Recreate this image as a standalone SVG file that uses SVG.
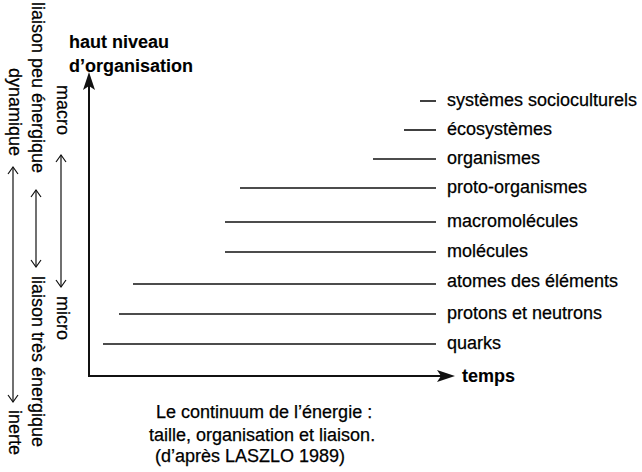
<svg xmlns="http://www.w3.org/2000/svg" width="642" height="472" viewBox="0 0 642 472">
  <style>
    text { font-family: "Liberation Sans", Arial, Helvetica, sans-serif; font-size: 18px; fill: #000; stroke: #000; stroke-width: 0.25; }
    .bold { font-weight: bold; stroke-width: 0.1; }
    .level { stroke: #111; stroke-width: 1.6; fill: none; }
    .axis { stroke: #111; stroke-width: 2; fill: none; }
    .thin { stroke: #111; stroke-width: 1.2; fill: none; }
    .head { fill: #111; stroke: none; }
  </style>

  <!-- axes -->
  <g id="connectors">
    <line class="axis" x1="89" y1="377" x2="89" y2="84"/>
    <path class="head" d="M89,72 L95,90 L89,86 L83,90 Z"/>
    <line class="axis" x1="88" y1="376" x2="442" y2="376"/>
    <path class="head" d="M455,376 L437,382 L441,376 L437,370 Z"/>

    <!-- double arrows on the left scales -->
    <line class="thin" x1="13" y1="167" x2="13" y2="402"/>
    <path class="thin" d="M8,174 L13,167 L18,174 M8,395 L13,402 L18,395"/>
    <line class="thin" x1="36" y1="190" x2="36" y2="267"/>
    <path class="thin" d="M31,197 L36,190 L41,197 M31,260 L36,267 L41,260"/>
    <line class="thin" x1="61" y1="155" x2="61" y2="287"/>
    <path class="thin" d="M56,162 L61,155 L66,162 M56,280 L61,287 L66,280"/>
  </g>

  <!-- axis titles -->
  <g id="y-axis-title">
    <text class="bold" x="69" y="48">haut niveau</text>
    <text class="bold" x="69" y="72">d’organisation</text>
  </g>
  <g id="x-axis-title">
    <text class="bold" x="462" y="382">temps</text>
  </g>

  <!-- left vertical scales -->
  <g id="scale-dynamique">
    <text transform="translate(8.5,68) rotate(90)">dynamique</text>
    <text transform="translate(8.5,410) rotate(90)">inerte</text>
  </g>
  <g id="scale-liaison">
    <text transform="translate(31.5,2) rotate(90)">liaison peu énergique</text>
    <text transform="translate(31.5,276) rotate(90)">liaison très énergique</text>
  </g>
  <g id="scale-taille">
    <text transform="translate(56.5,85) rotate(90)">macro</text>
    <text transform="translate(56.5,296) rotate(90)">micro</text>
  </g>

  <!-- levels of organisation -->
  <g id="systemes-socioculturels">
    <line class="level" x1="420" y1="101" x2="436" y2="101"/>
    <text x="447" y="106">systèmes socioculturels</text>
  </g>
  <g id="ecosystemes">
    <line class="level" x1="404" y1="130" x2="436" y2="130"/>
    <text x="447" y="135">écosystèmes</text>
  </g>
  <g id="organismes">
    <line class="level" x1="373" y1="159" x2="436" y2="159"/>
    <text x="447" y="164">organismes</text>
  </g>
  <g id="proto-organismes">
    <line class="level" x1="240" y1="188" x2="436" y2="188"/>
    <text x="447" y="193">proto-organismes</text>
  </g>
  <g id="macromolecules">
    <line class="level" x1="225" y1="222" x2="436" y2="222"/>
    <text x="447" y="227">macromolécules</text>
  </g>
  <g id="molecules">
    <line class="level" x1="225" y1="252" x2="436" y2="252"/>
    <text x="447" y="257">molécules</text>
  </g>
  <g id="atomes">
    <line class="level" x1="133" y1="284" x2="436" y2="284"/>
    <text x="447" y="287">atomes des éléments</text>
  </g>
  <g id="protons-neutrons">
    <line class="level" x1="119" y1="314" x2="436" y2="314"/>
    <text x="447" y="319">protons et neutrons</text>
  </g>
  <g id="quarks">
    <line class="level" x1="103" y1="344" x2="436" y2="344"/>
    <text x="447" y="349">quarks</text>
  </g>

  <!-- caption -->
  <g id="caption">
    <text x="156" y="418">Le continuum de l’énergie :</text>
    <text x="149" y="441">taille, organisation et liaison.</text>
    <text x="155" y="462">(d’après LASZLO 1989)</text>
  </g>
</svg>
